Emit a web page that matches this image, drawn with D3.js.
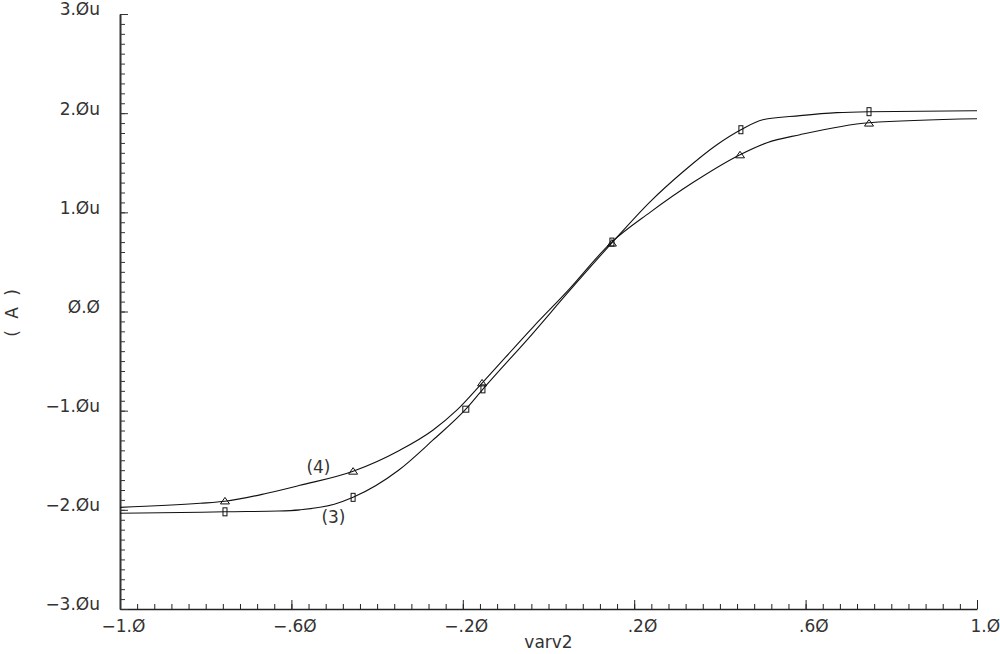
<!DOCTYPE html>
<html>
<head>
<meta charset="utf-8">
<script src="https://cdn.jsdelivr.net/npm/d3@7"></script>
<style>
    body { margin: 0; background: #fff; }
    svg { display: block; }
    text { font-family: "DejaVu Sans", sans-serif; font-size: 17px; fill: #333; }
</style>
</head>
<body>
<svg id="chart"></svg>
<script>
// sweep values (varv2) and currents (uA) for trace (3)
var xs3 = [-1.0, -0.81, -0.755, -0.63, -0.58, -0.50, -0.456, -0.35, -0.27, -0.193, -0.153, -0.036, 0.043, 0.148, 0.237, 0.314, 0.393, 0.449, 0.50, 0.587, 0.673, 0.748, 1.0]
var ys3 = [-2.035, -2.025, -2.02, -2.012, -2.0, -1.944, -1.874, -1.601, -1.298, -0.985, -0.783, -0.217, 0.18, 0.692, 1.106, 1.409, 1.682, 1.833, 1.934, 1.975, 2.005, 2.015, 2.025]

// trace (4)
var xs4 = [-1.0, -0.813, -0.755, -0.657, -0.58, -0.456, -0.347, -0.27, -0.214, -0.155, -0.036, 0.043, 0.148, 0.237, 0.337, 0.447, 0.51, 0.587, 0.748, 1.0]
var ys4 = [-1.975, -1.934, -1.914, -1.833, -1.753, -1.611, -1.399, -1.197, -0.995, -0.722, -0.157, 0.20, 0.702, 1.0, 1.30, 1.581, 1.702, 1.783, 1.904, 1.944]

// marker positions along each trace
var markX3 = [-0.755, -0.456, -0.153, 0.148, 0.449, 0.748]
var markY3 = [-2.02, -1.874, -0.78, 0.70, 1.833, 2.015]
var markX4 = [-0.755, -0.456, -0.155, 0.148, 0.447, 0.748]
var markY4 = [-1.91, -1.61, -0.72, 0.69, 1.58, 1.90]
var boxX = [-0.193]
var boxY = [-0.985]

// trace labels
var traceNames = ["(4)", "(3)"]
var traceNameX = [-0.565, -0.53]
var traceNameY = [-1.63, -2.135]

// axes
var xTicks = [-1.0, -0.6, -0.2, 0.2, 0.6, 1.0]
var xTickLabels = ["\u22121.\u00d8", "\u2212.6\u00d8", "\u2212.2\u00d8", ".2\u00d8", ".6\u00d8", "1.\u00d8"]
var yTicks = [-3, -2, -1, 0, 1, 2, 3]
var yTickLabels = ["\u22123.\u00d8u", "\u22122.\u00d8u", "\u22121.\u00d8u", "\u00d8.\u00d8", "1.\u00d8u", "2.\u00d8u", "3.\u00d8u"]
var xTitle = "varv2"
var yTitle = "( A )"

var drawChart = function()
{
    var width = 1000;
    var height = 654;
    var plot = {left:120, right:977, top:14, bottom:609};

    var svg = d3.select("#chart")
        .attr("width", width)
        .attr("height", height)

    var xScale = d3.scaleLinear()
        .domain([-1, 1])
        .range([plot.left, plot.right])

    var yScale = d3.scaleLinear()
        .domain([-3, 3])
        .range([plot.bottom, plot.top])

    // minor ticks
    var xMinor = d3.range(0, 51).map(function(i) { return -1 + i * 0.04 })
    var yMinor = d3.range(0, 61).map(function(i) { return -3 + i * 0.1 })

    svg.append("g")
        .attr("transform", "translate(0," + plot.bottom + ")")
        .call(d3.axisTop(xScale).tickValues(xMinor).tickSize(5).tickFormat(""))
        .call(function(g) { g.select(".domain").remove() })
        .selectAll("line").attr("stroke", "#222")

    svg.append("g")
        .attr("transform", "translate(" + plot.left + ",0)")
        .call(d3.axisRight(yScale).tickValues(yMinor).tickSize(5).tickFormat(""))
        .call(function(g) { g.select(".domain").remove() })
        .selectAll("line").attr("stroke", "#333")

    // major ticks + labels
    var xAxis = svg.append("g")
        .attr("transform", "translate(0," + plot.bottom + ")")
        .call(d3.axisBottom(xScale)
            .tickValues(xTicks)
            .tickSizeInner(-9)
            .tickSizeOuter(0)
            .tickPadding(11)
            .tickFormat(function(d, i) { return xTickLabels[i] }))
    xAxis.select(".domain").attr("stroke", "#222").attr("stroke-width", 1.3)
    xAxis.selectAll("line").attr("stroke", "#222")
    xAxis.selectAll("text")
        .attr("text-anchor", "start")
        .attr("dx", function(d, i) { return xTickLabels[i].charAt(0) == "\u2212" ? -19 : -7 })
        .style("font-family", "DejaVu Sans, sans-serif")
        .style("font-size", "17px")
        .attr("fill", "#333")

    var yAxis = svg.append("g")
        .attr("transform", "translate(" + plot.left + ",0)")
        .call(d3.axisLeft(yScale)
            .tickValues(yTicks)
            .tickSizeInner(-8)
            .tickSizeOuter(0)
            .tickPadding(20)
            .tickFormat(function(d, i) { return yTickLabels[i] }))
    yAxis.select(".domain").attr("stroke", "#333").attr("stroke-width", 2)
    yAxis.selectAll("line").attr("stroke", "#333")
    yAxis.selectAll("text")
        .attr("dy", "0.05em")
        .style("font-family", "DejaVu Sans, sans-serif")
        .style("font-size", "17px")
        .attr("fill", "#333")

    // titles
    svg.append("text")
        .text(xTitle)
        .attr("x", (plot.left + plot.right) / 2)
        .attr("y", 648)
        .attr("text-anchor", "middle")

    svg.append("text")
        .text(yTitle)
        .attr("text-anchor", "middle")
        .attr("letter-spacing", 3)
        .attr("transform", "translate(18," + yScale(0) + ") rotate(-90)")

    // traces
    var line = d3.line()
        .x(function(d) { return xScale(d[0]) })
        .y(function(d) { return yScale(d[1]) })
        .curve(d3.curveMonotoneX)

    var traces = [d3.zip(xs3, ys3), d3.zip(xs4, ys4)]

    svg.selectAll("path.trace")
        .data(traces)
        .enter()
        .append("path")
        .classed("trace", true)
        .attr("d", line)
        .attr("fill", "none")
        .attr("stroke", "#111")
        .attr("stroke-width", 1.1)

    // markers for (3): narrow rectangles
    svg.selectAll("rect.m3")
        .data(d3.zip(markX3, markY3))
        .enter()
        .append("rect")
        .classed("m3", true)
        .attr("x", function(d) { return xScale(d[0]) - 2 })
        .attr("y", function(d) { return yScale(d[1]) - 4 })
        .attr("width", 4)
        .attr("height", 8)
        .attr("fill", "none")
        .attr("stroke", "#111")

    // extra box marker on (3)
    svg.selectAll("rect.box")
        .data(d3.zip(boxX, boxY))
        .enter()
        .append("rect")
        .classed("box", true)
        .attr("x", function(d) { return xScale(d[0]) - 3 })
        .attr("y", function(d) { return yScale(d[1]) - 3 })
        .attr("width", 6)
        .attr("height", 6)
        .attr("fill", "none")
        .attr("stroke", "#111")

    // markers for (4): open triangles
    svg.selectAll("path.m4")
        .data(d3.zip(markX4, markY4))
        .enter()
        .append("path")
        .classed("m4", true)
        .attr("d", function(d)
            {
                var px = xScale(d[0]), py = yScale(d[1])
                return "M" + (px - 4.5) + "," + (py + 3) + "L" + px + "," + (py - 3.5)
                    + "L" + (px + 4.5) + "," + (py + 3) + "Z"
            })
        .attr("fill", "none")
        .attr("stroke", "#111")

    // trace names
    svg.selectAll("text.name")
        .data(traceNames)
        .enter()
        .append("text")
        .classed("name", true)
        .text(function(d) { return d })
        .attr("x", function(d, i) { return xScale(traceNameX[i]) })
        .attr("y", function(d, i) { return yScale(traceNameY[i]) })
}

drawChart()
</script>
</body>
</html>
